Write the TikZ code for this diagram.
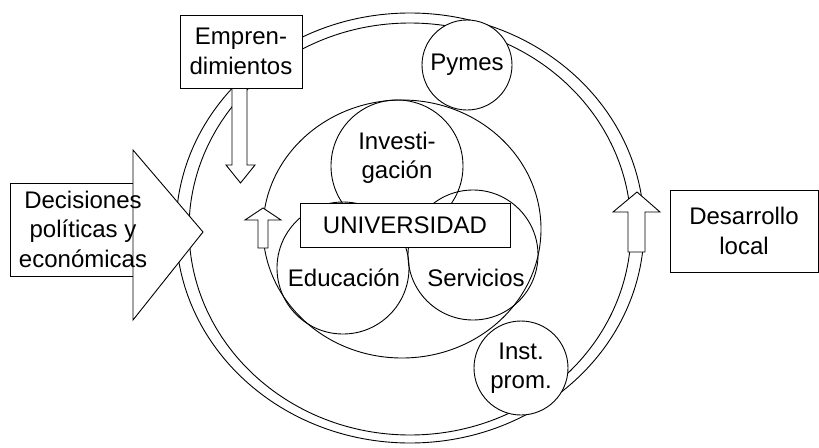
\documentclass[tikz,border=0pt]{standalone}
\usepackage{fontspec}
\setmainfont{Liberation Sans}
\begin{document}
\begin{tikzpicture}[x=1pt,y=-1pt, line width=0.9pt,
  lbl/.style={font=\fontsize{24}{29.5}\selectfont, align=center, inner sep=0pt},
  boxw/.style={draw, fill=white, inner sep=0pt},
  blk/.style={draw, fill=white, line join=miter}]
\useasboundingbox (0,0) rectangle (819,447);

% University circle and its three parts
\draw (402,229) ellipse [x radius=139, y radius=129];
\draw (397,166) circle [radius=66];
\draw (343,268) circle [radius=66];
\draw (473,255) circle [radius=65];
% inner up arrow
\draw[blk] (258,248) -- (258,220) -- (245,220) -- (263,208) -- (281,220) -- (268,220) -- (268,248) -- cycle;

% ring
\draw (410,228) ellipse [x radius=234, y radius=215];
\draw (410,229) ellipse [x radius=221, y radius=206];

% circles on ring
\node[circle, boxw, minimum size=90, lbl] (pymes) at (467,65) {Pymes};
\node[circle, boxw, minimum size=94, lbl] (inst) at (521,368) {Inst.\\prom.};

% right up arrow on ring
\draw[blk] (628,252) -- (628,212) -- (613,212) -- (637,192) -- (660,212) -- (645,212) -- (645,252) -- cycle;

% Emprendimientos box and down arrow
\node[boxw, minimum width=122, minimum height=73, lbl] (empr) at (241,51.5) {Empren-\\dimientos};
\draw[blk] (empr.south -| 232,0) -- (232,165) -- (226,165) -- (240.5,183) -- (255,165) -- (247,165) -- (empr.south -| 247,0) -- cycle;

% Decisiones box + triangle
\node[boxw, minimum width=130, minimum height=93] (decbox) at (75,229.5) {};
\draw[blk] (133,150) -- (203,232) -- (133,320) -- cycle;
\node[lbl] (dectext) at (83,229) {Decisiones\\pol\'iticas y\\econ\'omicas};

% University box
\node[boxw, minimum width=210, minimum height=44, lbl] (univ) at (405,225) {UNIVERSIDAD};

% labels
\node[lbl] (inv) at (397,158) {Investi-\\gaci\'on};
\node[lbl] (edu) at (344,278) {Educaci\'on};
\node[lbl] (serv) at (476,278) {Servicios};

% Desarrollo local
\node[boxw, minimum width=148, minimum height=82, lbl] (des) at (744,231) {Desarrollo\\local};
\end{tikzpicture}
\end{document}
